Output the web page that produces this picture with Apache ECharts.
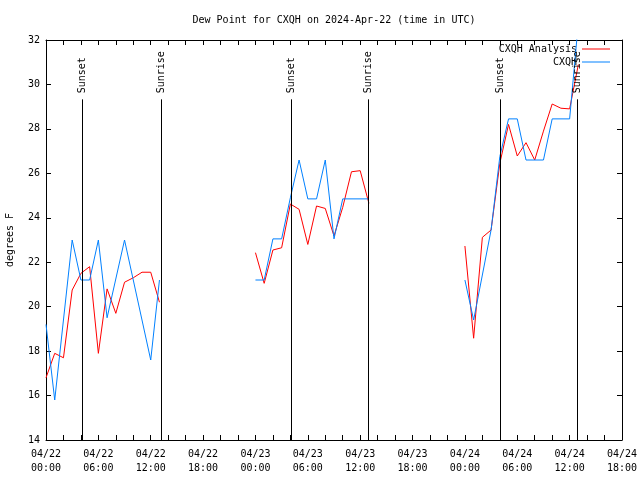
<!DOCTYPE html>
<html>
<head>
<meta charset="utf-8">
<script src="https://cdn.jsdelivr.net/npm/echarts@6/dist/echarts.min.js"></script>
<style>html,body{margin:0;padding:0;background:#fff;}#c{width:640px;height:480px;}</style>
</head>
<body>
<div id="c"></div>
<script>
// Hours since 04/22 00:00 UTC
const analysisHours = [0,1,2,3,4,5,6,7,8,9,10,11,12,13, null,
  24,25,26,27,28,29,30,31,32,33,34,35,36,37, null,
  48,49,50,51,52,53,54,55,56,57,58,59,60,61];
const analysisValues = [16.8,17.9,17.7,20.75,21.5,21.8,17.9,20.8,19.7,21.1,21.3,21.55,21.55,20.2, null,
  22.43,21.05,22.55,22.65,24.62,24.38,22.8,24.53,24.42,23.18,24.47,26.07,26.12,24.65, null,
  22.73,18.58,23.12,23.45,26.45,28.2,26.78,27.38,26.6,27.9,29.12,28.93,28.9,30.9];

const obsHours = [0,1,3,4,5,6,7,9,12,13, null,
  24,25,26,27,28,29,30,31,32,33,34,37, null,
  48,49,51,52,53,54,55,57,58,60,61];
const obsValues = [19.2,15.8,23.0,21.2,21.2,23.0,19.5,23.0,17.6,21.2, null,
  21.2,21.2,23.05,23.05,24.9,26.6,24.85,24.85,26.6,23.05,24.85,24.85, null,
  21.2,19.4,23.45,26.75,28.45,28.45,26.6,26.6,28.45,28.45,32.8];

const sunHours = [4.08, 13.13, 28.12, 36.94, 52.05, 60.89];
const sunLabels = ['Sunset', 'Sunrise', 'Sunset', 'Sunrise', 'Sunset', 'Sunrise'];

const yTicks = [14,16,18,20,22,24,26,28,30,32];
const xStartDay = 22;
const xMaxHours = 66;

function pairs(xs, ys) {
  const out = [];
  for (let i = 0; i < xs.length; i++) {
    if (xs[i] === null) { out.push([ (xs[i-1] + xs[i+1]) / 2, null ]); }
    else out.push([xs[i], ys[i]]);
  }
  return out;
}
function pad(n){ return (n < 10 ? '0' : '') + n; }
function xLabel(v) {
  const d = xStartDay + Math.floor(v / 24);
  const h = v % 24;
  return '04/' + pad(d) + '\n' + pad(h) + ':00';
}

const FONT = 'DejaVu Sans Mono';
const lineTop = 29.33;
const labelBase = 29.6;

const chart = echarts.init(document.getElementById('c'), null, {renderer: 'canvas'});
const xBase = {
  type: 'value', min: 0, max: xMaxHours, interval: 6,
  axisLine: {show: true, onZero: false, lineStyle: {color: '#000', width: 1}},
  axisTick: {show: true, inside: true, length: 5, lineStyle: {color: '#000'}},
  minorTick: {show: true, splitNumber: 3, length: 5, lineStyle: {color: '#000'}},
  splitLine: {show: false}, minorSplitLine: {show: false}
};
const yBase = {
  type: 'value', min: yTicks[0], max: yTicks[yTicks.length-1], interval: 2,
  axisLine: {show: true, onZero: false, lineStyle: {color: '#000', width: 1}},
  axisTick: {show: true, inside: true, length: 5, lineStyle: {color: '#000'}},
  splitLine: {show: false}
};
chart.setOption({
  animation: false,
  backgroundColor: '#fff',
  textStyle: {fontFamily: FONT},
  title: {
    text: 'Dew Point for CXQH on 2024-Apr-22 (time in UTC)',
    left: 334, top: 15, textAlign: 'center', padding: 0,
    textStyle: {fontFamily: FONT, fontSize: 10, fontWeight: 'normal', color: '#000'}
  },
  legend: [
    {data: ['CXQH Analysis'], right: 30, top: 44, padding: 0, align: 'right', icon: 'rect',
     itemWidth: 28, itemHeight: 1, selectedMode: false,
     textStyle: {fontFamily: FONT, fontSize: 10, color: '#000'}},
    {data: ['CXQH'], right: 30, top: 57, padding: 0, align: 'right', icon: 'rect',
     itemWidth: 28, itemHeight: 1, selectedMode: false,
     textStyle: {fontFamily: FONT, fontSize: 10, color: '#000'}}
  ],
  grid: {left: 46, right: 18, top: 40, bottom: 40, containLabel: false, outerBoundsMode: 'none'},
  xAxis: [
    Object.assign({}, xBase, {position: 'bottom',
      axisLabel: {show: true, margin: 7, fontFamily: FONT, fontSize: 10, color: '#000', lineHeight: 14,
        formatter: xLabel}}),
    Object.assign({}, xBase, {position: 'top', axisLabel: {show: false}})
  ],
  yAxis: [
    Object.assign({}, yBase, {position: 'left',
      name: 'degrees F', nameLocation: 'middle', nameGap: 31, nameRotate: 90,
      nameTextStyle: {fontFamily: FONT, fontSize: 10, color: '#000'},
      axisLabel: {show: true, margin: 6, fontFamily: FONT, fontSize: 10, color: '#000'}}),
    Object.assign({}, yBase, {position: 'right', axisLabel: {show: false}})
  ],
  series: [
    {
      name: 'CXQH Analysis', type: 'line', data: pairs(analysisHours, analysisValues),
      xAxisIndex: 0, yAxisIndex: 0, showSymbol: false, symbol: 'none', connectNulls: false,
      clip: true, lineStyle: {color: '#ff0000', width: 1}, itemStyle: {color: '#ff0000'}, z: 3
    },
    {
      name: 'CXQH', type: 'line', data: pairs(obsHours, obsValues),
      xAxisIndex: 0, yAxisIndex: 0, showSymbol: false, symbol: 'none', connectNulls: false,
      clip: true, lineStyle: {color: '#0080ff', width: 1}, itemStyle: {color: '#0080ff'}, z: 4
    },
    {
      name: 'sun', type: 'custom', xAxisIndex: 0, yAxisIndex: 0, z: 5,
      data: sunHours.map(h => [h, yTicks[0]]),
      renderItem: function (params, api) {
        const h = api.value(0);
        const p0 = api.coord([h, yTicks[0]]);
        const p1 = api.coord([h, lineTop]);
        const pt = api.coord([h, labelBase]);
        const x = Math.round(p0[0]) + 0.5;
        return {
          type: 'group',
          children: [
            {type: 'line', shape: {x1: x, y1: p0[1], x2: x, y2: p1[1]},
             style: {stroke: '#000', lineWidth: 1}},
            {type: 'text', x: x, y: pt[1], rotation: Math.PI / 2,
             style: {text: sunLabels[params.dataIndex], fill: '#000',
               font: '10px "DejaVu Sans Mono"', align: 'left', verticalAlign: 'middle'}}
          ]
        };
      }
    }
  ]
});
</script>
</body>
</html>
